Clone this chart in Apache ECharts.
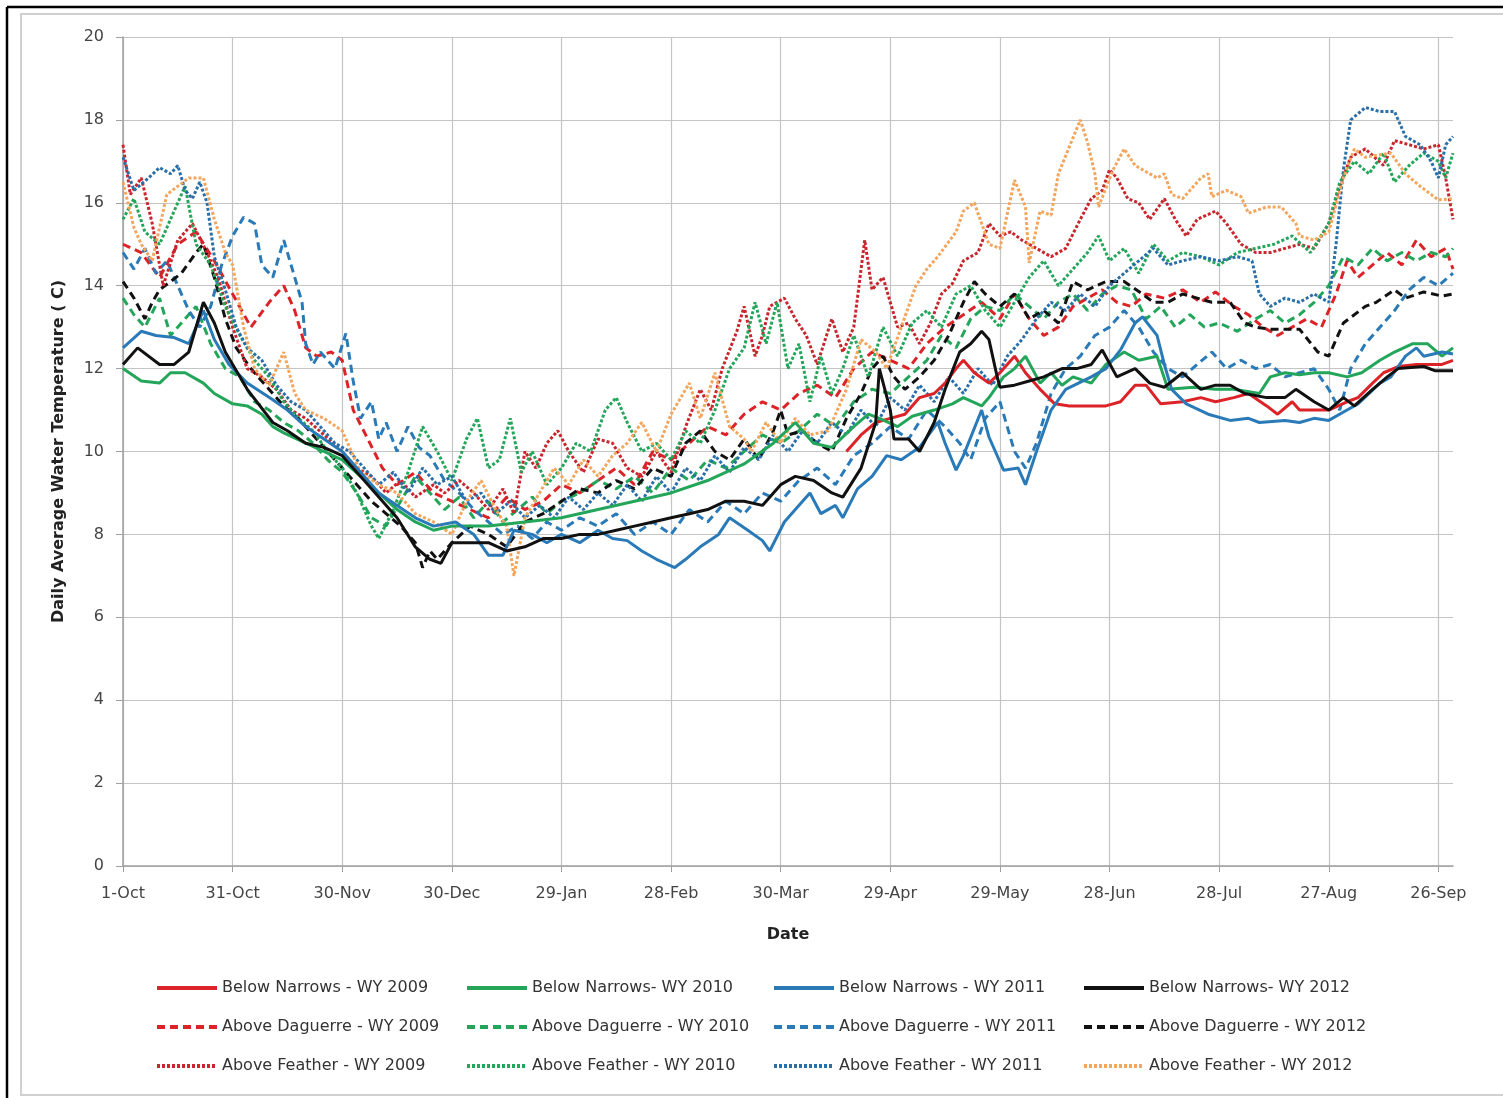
<!DOCTYPE html>
<html>
<head>
<meta charset="utf-8">
<script src="https://cdn.jsdelivr.net/npm/echarts@6/dist/echarts.min.js"></script>
<style>
  html, body { margin: 0; padding: 0; background: #fff; }
  #chart { width: 1503px; height: 1098px; }
</style>
</head>
<body>
<div id="chart"></div>
<script>
// day index 0 = 1-Oct, 364 = 30-Sep
const tickLabels = ["1-Oct", "31-Oct", "30-Nov", "30-Dec", "29-Jan", "28-Feb", "30-Mar", "29-Apr", "29-May", "28-Jun", "28-Jul", "27-Aug", "26-Sep"]
const yTicks = [0, 2, 4, 6, 8, 10, 12, 14, 16, 18, 20]

// Below Narrows (solid)
const bn2009 = [[198,10.0],[202,10.4],[206,10.7],[210,10.8],[214,10.9],[218,11.3],[222,11.4],[225,11.65],[228,12.0],[230,12.2],[233,11.9],[237,11.65],[240,11.9],[244,12.3],[247,11.9],[251,11.5],[255,11.15],[259,11.1],[265,11.1],[269,11.1],[273,11.2],[277,11.6],[280,11.6],[284,11.15],[290,11.2],[295,11.3],[299,11.2],[304,11.3],[308,11.4],[313,11.1],[316,10.9],[320,11.2],[322,11.0],[326,11.0],[330,11.0],[335,11.2],[338,11.3],[342,11.65],[345,11.9],[349,12.05],[354,12.1],[361,12.1],[364,12.2]]
const bn2010 = [[0,12.0],[5,11.7],[10,11.65],[13,11.9],[17,11.9],[22,11.65],[25,11.4],[30,11.15],[34,11.1],[38,10.9],[41,10.6],[44,10.45],[50,10.2],[55,10.0],[60,9.8],[65,9.4],[70,9.0],[75,8.6],[80,8.3],[85,8.1],[90,8.2],[100,8.2],[110,8.3],[120,8.4],[130,8.6],[140,8.8],[150,9.0],[160,9.3],[170,9.7],[178,10.2],[184,10.7],[189,10.2],[194,10.1],[200,10.6],[204,10.9],[207,10.8],[212,10.6],[216,10.85],[222,11.0],[227,11.15],[230,11.3],[235,11.1],[237,11.3],[241,11.8],[244,12.0],[247,12.3],[251,11.65],[254,11.9],[257,11.6],[260,11.8],[265,11.65],[269,12.1],[274,12.4],[278,12.2],[283,12.3],[286,11.5],[293,11.55],[299,11.5],[304,11.5],[311,11.4],[314,11.8],[318,11.9],[322,11.85],[326,11.9],[330,11.9],[335,11.8],[339,11.9],[344,12.2],[348,12.4],[353,12.6],[357,12.6],[361,12.3],[364,12.5]]
const bn2011 = [[0,12.5],[5,12.9],[9,12.8],[14,12.75],[18,12.6],[22,13.4],[25,12.7],[29,12.1],[34,11.65],[41,11.25],[45,11.0],[50,10.6],[55,10.3],[60,10.0],[65,9.5],[70,9.0],[75,8.7],[80,8.4],[85,8.2],[91,8.3],[96,8.0],[100,7.5],[104,7.5],[107,8.1],[112,8.0],[116,7.8],[120,8.0],[125,7.8],[130,8.1],[134,7.9],[138,7.85],[142,7.6],[146,7.4],[151,7.2],[154,7.4],[158,7.7],[163,8.0],[166,8.4],[171,8.1],[175,7.85],[177,7.6],[181,8.3],[184,8.6],[188,9.0],[191,8.5],[195,8.7],[197,8.4],[201,9.1],[205,9.4],[209,9.9],[213,9.8],[218,10.1],[223,10.7],[225,10.2],[228,9.55],[230,9.9],[235,11.0],[237,10.35],[241,9.55],[245,9.6],[247,9.2],[250,10.0],[254,11.0],[258,11.5],[265,11.8],[269,12.0],[273,12.45],[277,13.1],[279,13.25],[283,12.8],[285,12.1],[287,11.5],[291,11.15],[297,10.9],[303,10.75],[308,10.8],[311,10.7],[318,10.75],[322,10.7],[326,10.8],[330,10.75],[335,11.0],[338,11.15],[344,11.65],[347,11.8],[351,12.3],[354,12.5],[356,12.3],[361,12.4],[364,12.35]]
const bn2012 = [[0,12.1],[4,12.5],[10,12.1],[14,12.1],[18,12.4],[22,13.6],[25,13.1],[28,12.4],[34,11.5],[41,10.7],[45,10.5],[50,10.2],[55,10.1],[60,9.9],[65,9.4],[70,8.9],[75,8.4],[80,7.7],[84,7.4],[87,7.3],[90,7.8],[95,7.8],[100,7.8],[105,7.6],[110,7.7],[115,7.9],[120,7.9],[125,8.0],[130,8.0],[135,8.1],[140,8.2],[145,8.3],[150,8.4],[155,8.5],[160,8.6],[165,8.8],[170,8.8],[175,8.7],[180,9.2],[184,9.4],[189,9.3],[194,9.0],[197,8.9],[202,9.6],[206,10.7],[207,12.0],[210,11.0],[211,10.3],[215,10.3],[218,10.0],[222,10.7],[225,11.5],[229,12.4],[232,12.6],[235,12.9],[237,12.7],[239,11.9],[240,11.55],[244,11.6],[248,11.7],[252,11.8],[257,12.0],[261,12.0],[265,12.1],[268,12.45],[272,11.8],[277,12.0],[281,11.65],[285,11.55],[290,11.9],[295,11.5],[299,11.6],[303,11.6],[307,11.4],[313,11.3],[318,11.3],[321,11.5],[326,11.2],[330,11.0],[334,11.3],[337,11.1],[342,11.5],[346,11.8],[349,12.0],[356,12.05],[359,11.95],[364,11.95]]

// Above Daguerre (dashed)
const ad2009 = [[0,15.0],[5,14.8],[10,14.2],[15,15.0],[20,15.3],[25,14.6],[30,13.8],[35,13.0],[40,13.6],[44,14.0],[47,13.4],[50,12.5],[53,12.3],[57,12.4],[60,12.2],[63,11.0],[67,10.3],[71,9.6],[75,9.2],[80,9.5],[85,9.0],[90,8.8],[95,8.6],[100,8.4],[105,8.9],[110,8.6],[115,8.8],[120,9.2],[125,9.0],[130,9.3],[135,9.6],[140,9.2],[145,10.0],[150,9.8],[155,10.2],[160,10.6],[165,10.4],[170,10.9],[175,11.2],[180,11.0],[185,11.4],[190,11.6],[195,11.3],[200,12.0],[205,12.4],[210,12.2],[215,12.0],[220,12.6],[225,13.0],[230,13.3],[235,13.6],[240,13.2],[244,13.8],[248,13.2],[252,12.8],[256,13.0],[260,13.5],[264,13.7],[268,13.9],[272,13.6],[276,13.5],[280,13.8],[285,13.7],[290,13.9],[295,13.6],[299,13.85],[304,13.5],[308,13.3],[312,13.0],[316,12.8],[320,13.0],[324,13.2],[328,13.0],[332,13.8],[335,14.6],[338,14.2],[342,14.5],[346,14.8],[350,14.5],[354,15.1],[358,14.7],[362,14.9],[364,14.4]]
const ad2010 = [[0,13.7],[3,13.3],[6,13.0],[10,13.7],[13,12.8],[17,13.2],[20,13.5],[24,12.6],[28,12.0],[32,11.8],[36,11.2],[40,11.0],[44,10.7],[48,10.5],[52,10.2],[56,9.8],[60,9.5],[64,9.0],[68,8.4],[72,8.2],[76,8.8],[80,9.4],[84,9.0],[88,8.6],[92,8.9],[96,8.4],[100,8.8],[104,8.3],[108,8.6],[112,8.9],[116,8.5],[120,8.8],[125,9.0],[130,9.3],[135,9.1],[140,9.4],[145,9.0],[150,9.6],[155,9.3],[160,9.8],[165,9.6],[170,10.0],[175,10.4],[180,10.2],[185,10.5],[190,10.9],[195,10.6],[200,11.2],[205,11.5],[210,11.4],[215,11.8],[220,12.2],[224,12.8],[228,12.5],[232,13.2],[236,13.5],[240,13.4],[244,13.8],[248,13.5],[252,13.2],[256,13.6],[260,13.8],[264,13.4],[268,13.8],[272,14.0],[276,13.9],[280,13.2],[284,13.5],[288,13.0],[292,13.3],[296,13.0],[300,13.1],[305,12.9],[310,13.2],[314,13.4],[318,13.1],[322,13.3],[326,13.6],[330,14.0],[334,14.7],[338,14.5],[342,14.9],[346,14.6],[350,14.8],[354,14.6],[358,14.8],[362,14.7],[364,14.9]]
const ad2011 = [[0,14.8],[3,14.4],[6,14.9],[9,14.3],[12,14.6],[15,14.0],[18,13.4],[21,13.0],[24,13.5],[27,14.5],[30,15.2],[33,15.65],[36,15.5],[38,14.5],[41,14.2],[44,15.1],[46,14.5],[49,13.6],[50,12.6],[52,12.1],[54,12.4],[58,12.0],[61,12.85],[63,11.7],[65,10.8],[68,11.2],[70,10.3],[72,10.7],[75,10.0],[78,10.6],[81,10.1],[84,9.9],[88,9.3],[92,9.0],[96,8.6],[100,8.3],[104,8.0],[108,8.2],[112,7.9],[116,8.3],[120,8.1],[125,8.4],[130,8.2],[135,8.5],[140,8.0],[145,8.3],[150,8.0],[155,8.6],[160,8.3],[165,8.8],[170,8.5],[175,9.0],[180,8.8],[185,9.3],[190,9.6],[195,9.2],[200,9.9],[205,10.2],[210,10.6],[215,10.3],[220,11.0],[225,10.6],[229,10.2],[232,9.8],[236,10.8],[240,11.2],[244,10.0],[247,9.6],[250,10.2],[254,11.4],[258,12.0],[262,12.3],[266,12.8],[270,13.0],[274,13.4],[278,13.0],[282,12.4],[286,12.0],[290,11.8],[294,12.1],[298,12.4],[302,12.0],[306,12.2],[310,12.0],[314,12.1],[318,11.8],[322,11.9],[326,12.0],[330,11.5],[333,11.0],[336,12.0],[340,12.6],[344,13.0],[348,13.4],[352,13.9],[356,14.2],[360,14.0],[364,14.3]]
const ad2012 = [[0,14.1],[3,13.7],[6,13.2],[8,13.6],[10,13.9],[13,14.1],[16,14.3],[20,14.8],[22,15.0],[25,14.2],[28,13.2],[31,12.5],[35,12.0],[39,11.6],[44,11.1],[48,10.8],[52,10.4],[56,10.0],[60,9.6],[64,9.2],[68,8.8],[72,8.5],[76,8.2],[80,7.8],[82,7.2],[84,7.6],[86,7.4],[90,7.8],[95,8.2],[100,8.0],[105,7.7],[110,8.3],[115,8.5],[120,8.8],[125,9.1],[130,9.0],[135,9.3],[140,9.1],[145,9.6],[150,9.4],[154,10.2],[158,10.5],[162,10.0],[166,9.8],[170,10.3],[174,9.8],[178,10.5],[180,11.0],[182,10.4],[186,10.5],[190,10.2],[194,10.0],[198,10.8],[202,11.4],[205,12.0],[208,12.3],[211,11.8],[214,11.5],[218,11.8],[222,12.2],[226,12.8],[230,13.6],[233,14.1],[236,13.8],[240,13.5],[244,13.8],[248,13.2],[252,13.4],[256,13.1],[260,14.1],[264,13.9],[269,14.1],[274,14.1],[279,13.8],[282,13.6],[286,13.6],[290,13.8],[294,13.7],[298,13.6],[303,13.6],[307,13.1],[310,13.0],[314,12.95],[318,12.95],[322,12.95],[327,12.4],[330,12.3],[334,13.1],[340,13.5],[343,13.6],[348,13.9],[351,13.7],[356,13.85],[361,13.75],[364,13.8]]

// Above Feather (dotted)
const af2009 = [[0,17.4],[2,16.2],[5,16.6],[8,15.5],[11,14.0],[15,15.1],[19,15.5],[23,14.8],[26,14.2],[30,13.0],[34,12.0],[38,11.8],[42,11.5],[46,11.0],[50,10.8],[55,10.4],[60,10.0],[64,9.6],[68,9.4],[72,9.0],[76,9.3],[80,8.9],[85,9.2],[88,9.0],[92,9.3],[96,9.0],[100,8.6],[104,9.1],[107,8.5],[110,10.0],[113,9.6],[116,10.2],[119,10.5],[122,10.0],[126,9.5],[130,10.3],[134,10.2],[138,9.6],[142,9.4],[146,10.0],[150,9.5],[154,10.6],[158,11.5],[161,11.0],[164,12.0],[168,12.9],[170,13.5],[173,12.3],[175,12.8],[177,13.5],[181,13.7],[184,13.2],[187,12.8],[190,12.1],[194,13.2],[197,12.4],[200,13.0],[203,15.1],[205,13.9],[208,14.2],[210,13.6],[212,13.0],[215,13.1],[218,12.6],[221,13.1],[224,13.8],[227,14.05],[230,14.6],[234,14.8],[237,15.5],[240,15.2],[243,15.3],[246,15.1],[250,14.9],[254,14.7],[258,14.9],[262,15.6],[265,16.1],[268,16.3],[270,16.8],[272,16.6],[275,16.1],[278,16.0],[281,15.6],[285,16.1],[288,15.6],[291,15.2],[294,15.6],[299,15.8],[302,15.5],[306,15.0],[310,14.8],[314,14.8],[318,14.9],[322,15.0],[326,14.9],[330,15.5],[333,16.4],[336,17.1],[340,17.3],[345,16.9],[348,17.5],[352,17.4],[356,17.3],[360,17.4],[362,16.6],[364,15.6]]
const af2010 = [[0,15.6],[3,16.1],[6,15.3],[10,15.0],[14,15.8],[17,16.4],[20,15.0],[24,14.5],[28,13.5],[32,12.8],[36,12.2],[40,11.8],[44,11.2],[48,10.8],[52,10.5],[56,10.0],[60,9.6],[64,9.0],[68,8.2],[70,7.9],[74,8.6],[78,9.5],[82,10.6],[86,10.0],[90,9.3],[94,10.3],[97,10.8],[100,9.6],[103,9.8],[106,10.8],[109,9.5],[112,10.0],[116,9.2],[120,9.6],[124,10.2],[128,10.0],[132,11.0],[135,11.3],[138,10.7],[142,10.0],[146,10.2],[150,9.8],[154,10.5],[158,10.2],[162,11.0],[166,12.0],[170,12.5],[173,13.6],[176,12.6],[179,13.6],[182,12.0],[185,12.6],[188,11.2],[191,12.3],[194,11.4],[197,12.0],[200,12.8],[204,11.8],[208,13.0],[212,12.3],[216,13.1],[220,13.4],[224,13.0],[228,13.8],[232,14.0],[236,13.4],[240,13.0],[244,13.6],[248,14.2],[252,14.6],[256,14.0],[260,14.4],[264,14.8],[267,15.2],[270,14.6],[274,14.9],[278,14.3],[282,15.0],[286,14.6],[290,14.8],[295,14.7],[300,14.5],[305,14.8],[310,14.9],[315,15.0],[320,15.2],[325,14.8],[330,15.5],[333,16.5],[337,17.0],[341,16.7],[345,17.2],[348,16.5],[352,16.9],[356,17.2],[360,17.0],[362,16.6],[364,17.2]]
const af2011 = [[0,17.1],[3,16.3],[7,16.6],[10,16.85],[13,16.7],[15,16.9],[17,16.3],[19,16.1],[21,16.5],[23,16.0],[25,14.7],[28,13.9],[31,13.0],[34,12.5],[38,12.2],[42,11.6],[46,11.2],[50,11.0],[54,10.6],[58,10.2],[62,10.0],[66,9.6],[70,9.2],[74,9.5],[78,9.0],[82,9.6],[86,9.2],[90,9.4],[94,8.8],[98,9.0],[102,8.5],[106,8.8],[110,8.4],[114,8.7],[118,8.4],[122,8.9],[126,8.6],[130,9.0],[134,8.7],[138,9.2],[142,8.8],[146,9.4],[150,9.0],[154,9.6],[158,9.3],[162,9.9],[166,9.5],[170,10.1],[174,9.8],[178,10.4],[182,10.0],[186,10.5],[190,10.2],[194,10.7],[198,10.4],[202,11.0],[206,10.6],[210,11.3],[214,11.0],[218,11.6],[222,11.2],[226,11.8],[230,11.4],[234,12.0],[238,11.6],[242,12.3],[246,12.7],[250,13.2],[254,13.6],[258,13.4],[262,13.8],[266,13.5],[270,14.0],[274,14.3],[278,14.6],[282,14.9],[286,14.5],[290,14.6],[295,14.7],[300,14.6],[305,14.7],[309,14.6],[311,13.8],[314,13.5],[318,13.7],[322,13.6],[326,13.8],[330,13.6],[332,15.0],[334,16.8],[336,18.0],[340,18.3],[344,18.2],[348,18.2],[351,17.6],[355,17.4],[358,17.0],[360,16.6],[362,17.4],[364,17.6]]
const af2012 = [[0,16.5],[3,15.4],[5,15.0],[8,14.6],[12,16.2],[15,16.4],[18,16.6],[22,16.6],[25,15.6],[28,14.8],[30,14.5],[33,13.0],[36,12.0],[40,11.6],[44,12.4],[47,11.4],[50,11.0],[55,10.8],[60,10.5],[65,9.5],[70,9.2],[75,9.0],[80,8.5],[85,8.3],[90,8.0],[94,8.8],[98,9.3],[102,8.6],[105,8.2],[107,7.0],[110,8.4],[114,9.0],[118,9.6],[122,9.2],[126,9.8],[130,9.4],[134,9.9],[138,10.2],[142,10.7],[146,10.0],[150,10.9],[155,11.65],[158,10.8],[162,11.9],[166,10.6],[170,10.3],[172,10.0],[176,10.7],[180,10.2],[184,10.8],[188,10.4],[193,10.5],[198,11.5],[202,12.7],[206,12.4],[209,12.0],[213,13.0],[217,14.0],[220,14.4],[223,14.7],[228,15.3],[230,15.8],[233,16.0],[237,15.0],[240,14.9],[244,16.55],[247,15.9],[248,14.55],[251,15.8],[254,15.7],[256,16.7],[259,17.35],[262,18.0],[264,17.45],[266,16.7],[267,15.9],[271,16.8],[274,17.3],[277,16.9],[283,16.6],[285,16.7],[287,16.2],[290,16.1],[295,16.6],[297,16.7],[298,16.15],[302,16.3],[306,16.15],[308,15.75],[313,15.9],[317,15.9],[321,15.5],[322,15.2],[326,15.1],[330,15.3],[334,16.6],[337,17.3],[340,17.1],[347,17.2],[351,16.7],[355,16.4],[360,16.07],[364,16.1]]

const seriesNames = [
  "Below Narrows - WY 2009", "Below Narrows- WY 2010", "Below Narrows - WY 2011", "Below Narrows- WY 2012",
  "Above Daguerre - WY 2009", "Above Daguerre - WY 2010", "Above Daguerre - WY 2011", "Above Daguerre - WY 2012",
  "Above Feather - WY 2009", "Above Feather - WY 2010", "Above Feather - WY 2011", "Above Feather - WY 2012",
]
const seriesData = [bn2009, bn2010, bn2011, bn2012, ad2009, ad2010, ad2011, ad2012, af2009, af2010, af2011, af2012]
const colors = ["#dc2328", "#23a55a", "#2a7ab8", "#111111", "#dc2328", "#23a55a", "#2a7ab8", "#111111", "#c8262c", "#23a55a", "#2a6fa8", "#f2a65e"]

const days = []
for (let i = 0; i < 365; i++) days.push(i)

const fontFamily = "DejaVu Sans"
const isTick = idx => idx % 30 === 0 && idx <= 360

let series = seriesData.map((d, i) => {
  const kind = Math.floor(i / 4) // 0 solid, 1 dashed, 2 dotted
  return {
    name: seriesNames[i],
    type: "line",
    data: d,
    symbol: "none",
    z: kind === 0 ? 5 : 3,
    lineStyle: {
      color: colors[i],
      width: 3,
      type: kind === 0 ? "solid" : kind === 1 ? [8, 5] : [3, 2],
    },
    itemStyle: { color: colors[i] },
  }
})

// 每个图例单独放，模仿 Excel 的 4 列
const legendLeft = [155, 465, 772, 1082]
const legendTop = [980, 1019, 1058]
let legends = seriesNames.map((name, i) => ({
  data: [name],
  left: legendLeft[i % 4],
  top: legendTop[Math.floor(i / 4)],
  padding: 0,
  itemWidth: 60,
  itemHeight: 16,
  itemGap: 0,
  selectedMode: false,
  itemStyle: { opacity: 0 },
  lineStyle: { width: 4 },
  textStyle: { fontFamily: fontFamily, fontSize: 16, color: "#333" },
}))

let option = {
  animation: false,
  backgroundColor: "#fff",
  grid: { left: 123, right: 50, top: 37, bottom: 232 },
  legend: legends,
  xAxis: {
    type: "category",
    data: days,
    boundaryGap: false,
    name: "Date",
    nameLocation: "middle",
    nameGap: 61,
    nameTextStyle: { fontFamily: fontFamily, fontSize: 16, fontWeight: "bold", color: "#222" },
    axisLine: { lineStyle: { color: "#a0a0a0", width: 1.5 } },
    axisTick: { show: true, interval: isTick, length: 6, lineStyle: { color: "#a0a0a0" } },
    axisLabel: {
      interval: isTick,
      formatter: (val, idx) => tickLabels[idx / 30],
      fontFamily: fontFamily,
      fontSize: 16,
      color: "#444",
      margin: 20,
    },
    splitLine: { show: true, interval: isTick, lineStyle: { color: "#c4c4c4", width: 1.2 } },
  },
  yAxis: {
    type: "value",
    min: yTicks[0],
    max: yTicks[yTicks.length - 1],
    interval: 2,
    name: "Daily Average Water Temperature ( C)",
    nameLocation: "middle",
    nameGap: 56,
    nameTextStyle: { fontFamily: fontFamily, fontSize: 16, fontWeight: "bold", color: "#222" },
    axisLine: { show: true, lineStyle: { color: "#a0a0a0", width: 1.5 } },
    axisTick: { show: true, length: 7, lineStyle: { color: "#a0a0a0" } },
    axisLabel: { fontFamily: fontFamily, fontSize: 16, color: "#444", margin: 19 },
    splitLine: { show: true, lineStyle: { color: "#c4c4c4", width: 1.2 } },
  },
  graphic: [
    { type: "rect", shape: { x: 21, y: 14, width: 1500, height: 1081 }, style: { fill: "none", stroke: "#d0d0d0", lineWidth: 2 } },
    { type: "line", shape: { x1: 7, y1: 7, x2: 1503, y2: 7 }, style: { stroke: "#000", lineWidth: 2.5 } },
    { type: "line", shape: { x1: 7, y1: 7, x2: 7, y2: 1098 }, style: { stroke: "#000", lineWidth: 2.5 } },
  ],
  series: series,
}

const chart = echarts.init(document.getElementById("chart"))
chart.setOption(option)
</script>
</body>
</html>
